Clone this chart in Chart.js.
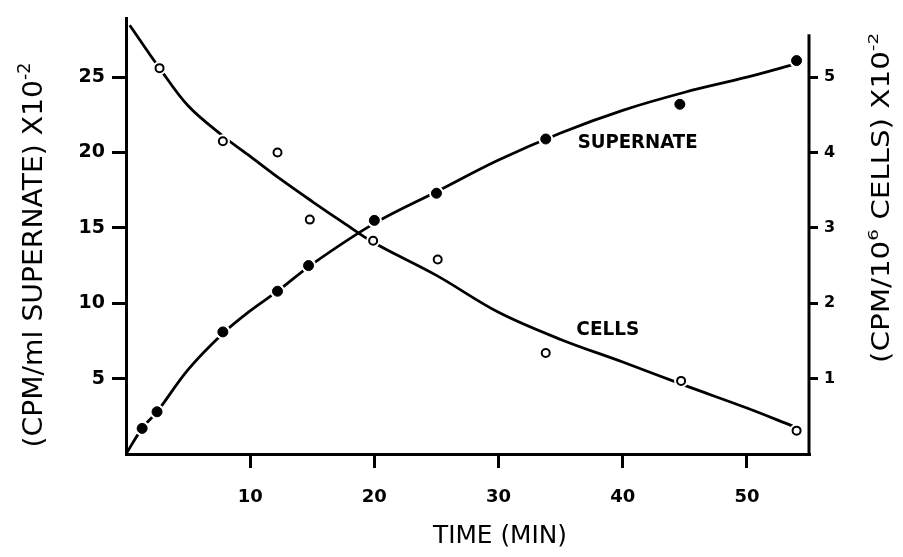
<!DOCTYPE html>
<html>
<head>
<meta charset="utf-8">
<script src="https://cdn.jsdelivr.net/npm/chart.js@4.4.0/dist/chart.umd.min.js"></script>
<style>
html, body { margin: 0; padding: 0; background: #fff; }
#wrap { width: 903px; height: 557px; }
</style>
</head>
<body>
<div id="wrap"><canvas id="chart" width="903" height="557"></canvas></div>
<script>
// axis ticks
var xTicks = [10, 20, 30, 40, 50];
var leftTicks = [5, 10, 15, 20, 25];
var rightTicks = [1, 2, 3, 4, 5];

// supernate, CPM/ml x10^-2 (left axis), filled dots
var supTime = [1.3, 2.5, 7.8, 12.2, 14.7, 20.0, 25.0, 33.8, 44.6, 54.0];
var supValue = [1.7, 2.8, 8.1, 10.8, 12.5, 15.5, 17.3, 20.9, 23.2, 26.1];

// cells, CPM/10^6 cells x10^-2 (right axis), open circles
var cellTime = [2.7, 7.8, 12.2, 14.8, 19.9, 25.1, 33.8, 44.7, 54.0];
var cellValue = [5.12, 4.15, 4.0, 3.11, 2.83, 2.58, 1.34, 0.97, 0.31];

// the hand drawn curves through the points
var supCurveTime = [0, 1.3, 2.5, 5, 7.8, 10, 12.2, 15, 20, 25, 30, 35, 40, 45, 50, 54];
var supCurveValue = [0, 1.7, 2.8, 5.6, 8.0, 9.5, 10.8, 12.6, 15.3, 17.4, 19.5, 21.3, 22.8, 24.0, 25.0, 25.9];
var cellCurveTime = [0.3, 2.7, 5, 7.8, 10, 12.5, 15, 17.5, 20, 25, 30, 35, 40, 45, 50, 53.7];
var cellCurveValue = [5.69, 5.12, 4.62, 4.22, 3.95, 3.64, 3.35, 3.07, 2.8, 2.37, 1.88, 1.52, 1.22, 0.91, 0.61, 0.37];

var xMax = 55;
var leftMax = 28.9;
var rightMax = leftMax / 5;
var rightAxisTop = 5.57;

function pairs(xs, ys) {
    return xs.map(function (x, i) { return {x: x, y: ys[i]}; });
}

var tickFont = 'DejaVu Sans';

// draws text made of normal and superscript parts, stretched to a given width
function drawParts(ctx, parts, size, weight, cx, cy, rot, fitWidth) {
    var supSize = size * 0.62;
    ctx.save();
    ctx.translate(cx, cy);
    ctx.rotate(rot);
    var widths = parts.map(function (p) {
        ctx.font = weight + ' ' + (p.sup ? supSize : size) + 'px "DejaVu Sans"';
        return ctx.measureText(p.t).width;
    });
    var total = widths.reduce(function (a, b) { return a + b; }, 0);
    ctx.scale(fitWidth ? fitWidth / total : 1, 1);
    ctx.textAlign = 'left';
    ctx.textBaseline = 'alphabetic';
    ctx.fillStyle = '#000';
    var x = -total / 2;
    parts.forEach(function (p, i) {
        ctx.font = weight + ' ' + (p.sup ? supSize : size) + 'px "DejaVu Sans"';
        ctx.fillText(p.t, x, size * 0.36 - (p.sup ? size * 0.45 : 0));
        x += widths[i];
    });
    ctx.restore();
}

var labelsPlugin = {
    id: 'labels',
    afterDraw: function (chart) {
        var ctx = chart.ctx;
        var area = chart.chartArea;
        var sx = chart.scales.x, sy = chart.scales.y, sy2 = chart.scales.y2;

        // right axis line is shorter than the left one
        ctx.save();
        ctx.strokeStyle = '#000';
        ctx.lineWidth = 3;
        ctx.beginPath();
        ctx.moveTo(area.right, sy2.getPixelForValue(rightAxisTop));
        ctx.lineTo(area.right, area.bottom + 1.5);
        ctx.stroke();
        ctx.restore();

        drawParts(ctx, [{t: '(CPM/ml SUPERNATE) X10'}, {t: '-2', sup: true}],
            27, '500', 32, 255, -Math.PI / 2, 385);
        drawParts(ctx, [{t: '(CPM/10'}, {t: '6', sup: true}, {t: ' CELLS) X10'}, {t: '-2', sup: true}],
            24, '500', 880, 198, -Math.PI / 2, 330);
        drawParts(ctx, [{t: 'TIME (MIN)'}], 25, '500', 500, 534, 0, 134);

        drawParts(ctx, [{t: 'SUPERNATE'}], 20, 'bold',
            sx.getPixelForValue(41.2), sy.getPixelForValue(20.75), 0, 120);
        drawParts(ctx, [{t: 'CELLS'}], 20, 'bold',
            sx.getPixelForValue(38.8), sy2.getPixelForValue(1.68), 0, 63);
    }
};

function axisGrid(len) {
    return {drawOnChartArea: false, drawTicks: true, tickLength: len, lineWidth: 3, color: '#000'};
}

var chart = new Chart(document.getElementById('chart'), {
    type: 'line',
    data: {
        datasets: [
            {
                data: pairs(supTime, supValue), yAxisID: 'y', showLine: false,
                pointRadius: 5, pointBackgroundColor: '#000', pointBorderColor: '#000', pointBorderWidth: 1,
                order: 1
            },
            {
                data: pairs(cellTime, cellValue), yAxisID: 'y2', showLine: false,
                pointRadius: 4, pointBackgroundColor: '#fff', pointBorderColor: '#000', pointBorderWidth: 2,
                order: 1
            },
            // white halos break the curves around the markers
            {
                data: pairs(supTime, supValue), yAxisID: 'y', showLine: false,
                pointRadius: 7.5, pointBackgroundColor: '#fff', pointBorderWidth: 0,
                order: 2
            },
            {
                data: pairs(cellTime, cellValue), yAxisID: 'y2', showLine: false,
                pointRadius: 7, pointBackgroundColor: '#fff', pointBorderWidth: 0,
                order: 2
            },
            {
                data: pairs(supCurveTime, supCurveValue), yAxisID: 'y',
                borderColor: '#000', borderWidth: 2.8, pointRadius: 0,
                tension: 0.35, order: 3
            },
            {
                data: pairs(cellCurveTime, cellCurveValue), yAxisID: 'y2',
                borderColor: '#000', borderWidth: 2.8, pointRadius: 0,
                tension: 0.35, order: 3
            }
        ]
    },
    options: {
        responsive: false,
        animation: false,
        devicePixelRatio: 1,
        layout: {padding: {top: 10, left: 0, right: 0, bottom: 0}},
        plugins: {legend: {display: false}, tooltip: {enabled: false}},
        elements: {line: {fill: false}},
        scales: {
            x: {
                type: 'linear', position: 'bottom', min: 0, max: xMax,
                afterBuildTicks: function (s) { s.ticks = xTicks.map(function (v) { return {value: v}; }); },
                afterFit: function (s) { s.height = 103; },
                grid: axisGrid(14),
                border: {display: true, width: 3, color: '#000'},
                ticks: {color: '#000', padding: 19, maxRotation: 0, font: {family: tickFont, size: 18, weight: 'bold'}}
            },
            y: {
                type: 'linear', position: 'left', min: 0, max: leftMax,
                afterBuildTicks: function (s) { s.ticks = leftTicks.map(function (v) { return {value: v}; }); },
                afterFit: function (s) { s.width = 126; },
                grid: axisGrid(14),
                border: {display: true, width: 3, color: '#000'},
                ticks: {color: '#000', padding: 7, font: {family: tickFont, size: 19, weight: 'bold'}}
            },
            y2: {
                type: 'linear', position: 'right', min: 0, max: rightMax,
                afterBuildTicks: function (s) { s.ticks = rightTicks.map(function (v) { return {value: v}; }); },
                afterFit: function (s) { s.width = 94; },
                grid: axisGrid(9),
                border: {display: false},
                ticks: {color: '#000', padding: 6, font: {family: tickFont, size: 16, weight: 'bold'}}
            }
        }
    },
    plugins: [labelsPlugin]
});
</script>
</body>
</html>
